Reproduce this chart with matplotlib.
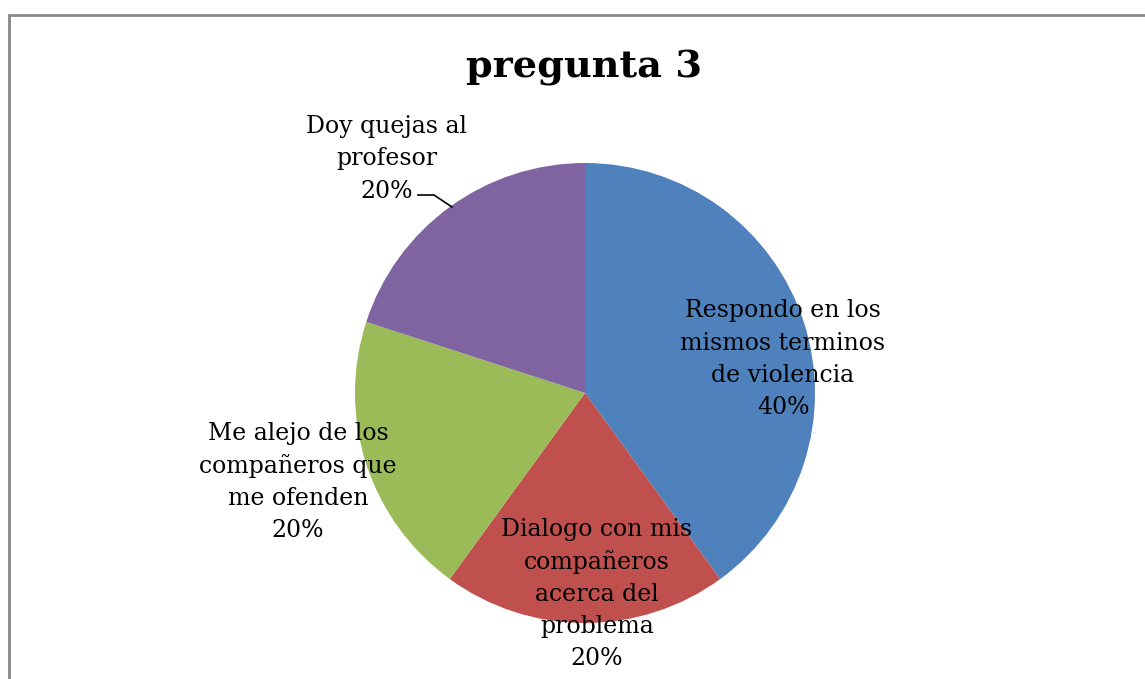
import numpy as np
import matplotlib
matplotlib.use("Agg")
from matplotlib import pyplot as plt
import matplotlib.patches as mpatches

W, H = 1145, 679

labels = ["Respondo en los\nmismos terminos\nde violencia",
          "Dialogo con mis\ncompañeros\nacerca del\nproblema",
          "Me alejo de los\ncompañeros que\nme ofenden",
          "Doy quejas al\nprofesor"]
values = [40, 20, 20, 20]
colors = ["#4F81BD", "#C0504D", "#9BBB59", "#8064A2"]
title = "pregunta 3"

# label centres in pixel coords (x, y from top)
label_pos = [(783, 359), (597, 594), (298, 482), (387, 159)]

fig = plt.figure(figsize=(W / 100, H / 100), dpi=100)
ax = fig.add_axes([0, 0, 1, 1])

cx, cy, r = 585, H - 393, 230
ax.pie(values, colors=colors, startangle=90, counterclock=False,
       center=(cx, cy), radius=r, frame=True,
       wedgeprops=dict(linewidth=0))
ax.set_xlim(0, W)
ax.set_ylim(0, H)
ax.set_aspect("equal")
ax.axis("off")

tot = sum(values)
for lab, v, (x, y) in zip(labels, values, label_pos):
    ax.text(x, H - y, f"{lab}\n{round(100 * v / tot)}%", ha="center", va="center",
            fontsize=17, family="DejaVu Serif", linespacing=1.5)

# leader line for the small label
ax.plot([418, 434, 452], [H - 195, H - 195, H - 207], color="black", lw=1.2)

fig.text(584 / W, 1 - 68 / H, title, ha="center", va="center",
         fontsize=27.5, fontweight="bold", family="DejaVu Serif")

fig.add_artist(mpatches.Rectangle((8.5 / W, -0.1), 1.2, 1.1 - 15.5 / H,
                                  transform=fig.transFigure, fill=False,
                                  edgecolor="#878787", lw=2))

fig.savefig("out.png", dpi=100)
